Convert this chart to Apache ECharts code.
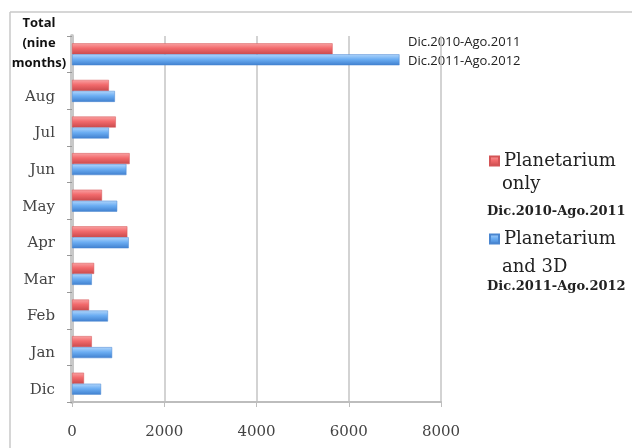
<!DOCTYPE html>
<html>
<head>
<meta charset="utf-8">
<script src="https://cdn.jsdelivr.net/npm/echarts@6/dist/echarts.min.js"></script>
<style>
html,body{margin:0;padding:0;background:#fff;}
#main{width:632px;height:448px;}
</style>
</head>
<body>
<div id="main"></div>
<script>
// categories from bottom to top
var months = ['Dic', 'Jan', 'Feb', 'Mar', 'Apr', 'May', 'Jun', 'Jul', 'Aug', 'Total (nine months)'];
var planetOnly = [260, 430, 370, 480, 1200, 650, 1250, 950, 800, 5650];   // Dic.2010-Ago.2011
var planet3D = [630, 870, 780, 430, 1230, 980, 1180, 800, 930, 7100];     // Dic.2011-Ago.2012
var xTicks = [0, 2000, 4000, 6000, 8000];
var periods = ['Dic.2010-Ago.2011', 'Dic.2011-Ago.2012'];
var legendNames = ['Planetarium only', 'Planetarium and 3D'];

var myChart = echarts.init(document.getElementById('main'));

var serif = '"DejaVu Serif","Liberation Serif",serif';
var sans = '"Open Sans","Liberation Sans",sans-serif';

function grad(top, mid, bot) {
    return new echarts.graphic.LinearGradient(0, 0, 0, 1, [
        {offset: 0, color: top}, {offset: 0.45, color: mid}, {offset: 1, color: bot}
    ]);
}

myChart.setOption({
    animation: false,
    grid: {left: 72, right: 191, top: 36, bottom: 46},
    legend: {
        orient: 'vertical',
        left: 484, top: 147,
        itemWidth: 9, itemHeight: 9,
        itemGap: 60,
        icon: 'rect',
        data: legendNames,
        formatter: function (n) { return n.split(' ')[0]; },
        textStyle: {fontFamily: serif, fontSize: 18, color: '#222'}
    },
    xAxis: {
        type: 'value',
        min: 0, max: 8000, interval: 2000,
        axisLine: {show: true, lineStyle: {color: '#bdbdbd', width: 2}},
        axisTick: {show: true, length: 5, lineStyle: {color: '#bdbdbd'}},
        splitLine: {show: true, lineStyle: {color: '#c4c4c4', width: 1.5}},
        axisLabel: {
            margin: 23, fontFamily: serif, fontSize: 15, color: '#444',
            formatter: function (v) { return xTicks.indexOf(v) >= 0 ? String(v) : ''; }
        }
    },
    yAxis: {
        type: 'category',
        data: months,
        axisLine: {show: true, lineStyle: {color: '#c8c8c8', width: 4}},
        axisTick: {show: true, length: 5, lineStyle: {color: '#999'}},
        axisLabel: {
            margin: 17, fontFamily: serif, fontSize: 15, color: '#444',
            verticalAlign: 'top', lineHeight: 12,
            formatter: function (v, i) { return i === months.length - 1 ? '' : v; }
        }
    },
    series: [{
        name: legendNames[0],
        type: 'bar',
        data: planetOnly,
        barWidth: 11,
        barGap: '0%',
        itemStyle: {color: grad('#f9a3a4', '#f26a6c', '#c94a4c'), borderColor: '#d45456', borderWidth: 0.5}
    }, {
        name: legendNames[1],
        type: 'bar',
        data: planet3D,
        barWidth: 11,
        barGap: '0%',
        itemStyle: {color: grad('#b2d6fb', '#6caef3', '#3f7fce'), borderColor: '#4a86d0', borderWidth: 0.5}
    }],
    graphic: [
        {type: 'line', shape: {x1: 10, y1: 12, x2: 632, y2: 12}, style: {stroke: '#c9c9c9', lineWidth: 1.5}},
        {type: 'line', shape: {x1: 10, y1: 12, x2: 10, y2: 448}, style: {stroke: '#c9c9c9', lineWidth: 1.5}},
        {type: 'text', x: 39, y: 13, style: {
            text: 'Total\n(nine\nmonths)', align: 'center', fontFamily: sans, fontWeight: 'bold',
            fontSize: 13, lineHeight: 20, fill: '#111'
        }},
        {type: 'text', left: 408, top: 36, style: {text: periods[0], fontFamily: sans, fontSize: 13, fill: '#222'}},
        {type: 'text', left: 408, top: 55, style: {text: periods[1], fontFamily: sans, fontSize: 13, fill: '#222'}},
        {type: 'text', left: 502, top: 175, style: {text: 'only', fontFamily: serif, fontSize: 18, fill: '#222'}},
        {type: 'text', left: 487, top: 205, style: {text: periods[0], fontFamily: serif, fontWeight: 'bold', fontSize: 13, fill: '#222'}},
        {type: 'text', left: 502, top: 258, style: {text: 'and 3D', fontFamily: serif, fontSize: 18, fill: '#222'}},
        {type: 'text', left: 487, top: 280, style: {text: periods[1], fontFamily: serif, fontWeight: 'bold', fontSize: 13, fill: '#222'}}
    ]
});
</script>
</body>
</html>
